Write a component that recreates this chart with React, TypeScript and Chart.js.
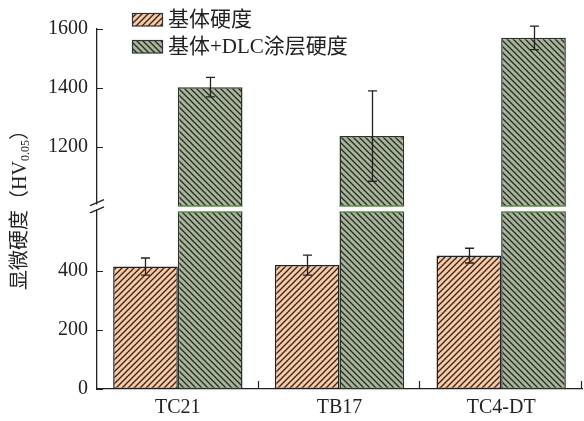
import React, { useEffect, useRef } from 'react';
import { Chart, registerables } from 'chart.js';

Chart.register(...registerables);

const categories = ['TC21', 'TB17', 'TC4-DT'];
const seriesLabels = ['基体硬度', '基体+DLC涂层硬度'];
const baseHardness = [415, 420, 452];
const baseError = [29, 34, 25];
const coatedHardness = [1403, 1237, 1570];
const coatedError = [33, 153, 40];
const yTickValues = [0, 200, 400, 1200, 1400, 1600];
const breakLow = 600;
const breakHigh = 1000;
const breakGap = 20;
const yMaxReal = 1600;

const toDisplay = (v: number) => (v <= breakLow ? v : v - (breakHigh - breakLow) + breakGap);

const SERIF = "'Liberation Serif', 'Times New Roman', serif";
const MIXED = "'Liberation Serif', 'Noto Sans CJK SC', serif";
const ORANGE = '#FCC8A2';
const GREEN = '#A8B698';
const INK = '#222222';

function makeHatch(bg: string, dir: 'fwd' | 'back', s: number) {
  const c = document.createElement('canvas');
  c.width = s;
  c.height = s;
  const g = c.getContext('2d')!;
  g.fillStyle = bg;
  g.fillRect(0, 0, s, s);
  g.strokeStyle = '#262626';
  g.lineWidth = 1.25;
  g.beginPath();
  if (dir === 'fwd') {
    g.moveTo(0, s); g.lineTo(s, 0);
    g.moveTo(-1, 1); g.lineTo(1, -1);
    g.moveTo(s - 1, s + 1); g.lineTo(s + 1, s - 1);
  } else {
    g.moveTo(0, 0); g.lineTo(s, s);
    g.moveTo(-1, s - 1); g.lineTo(1, s + 1);
    g.moveTo(s - 1, -1); g.lineTo(s + 1, 1);
  }
  g.stroke();
  return g.createPattern(c, 'repeat')!;
}

export default function App() {
  const ref = useRef<HTMLCanvasElement | null>(null);

  useEffect(() => {
    const canvas = ref.current!;
    const orangePat = makeHatch(ORANGE, 'fwd', 6);
    const greenPat = makeHatch(GREEN, 'back', 6);
    const patterns = [orangePat, greenPat];
    const errors = [baseError, coatedError];
    const realValues = [baseHardness, coatedHardness];

    const custom = {
      id: 'custom',
      afterDatasetsDraw(chart: any) {
        const ctx = chart.ctx;
        const y = chart.scales.y;
        const meta1 = chart.getDatasetMeta(1);
        const yLo = y.getPixelForValue(breakLow);
        const yHi = y.getPixelForValue(breakLow + breakGap);
        ctx.save();
        meta1.data.forEach((bar: any) => {
          const w = bar.width;
          const x0 = bar.x - w / 2;
          ctx.fillStyle = '#ffffff';
          ctx.fillRect(x0 - 2, yHi, w + 4, yLo - yHi);
          ctx.strokeStyle = '#5E8C52';
          ctx.lineWidth = 1.5;
          ctx.beginPath();
          ctx.moveTo(x0, yHi); ctx.lineTo(x0 + w, yHi);
          ctx.moveTo(x0, yLo); ctx.lineTo(x0 + w, yLo);
          ctx.stroke();
        });
        ctx.strokeStyle = INK;
        ctx.lineWidth = 1.3;
        [0, 1].forEach((di) => {
          const meta = chart.getDatasetMeta(di);
          meta.data.forEach((bar: any, i: number) => {
            const v = realValues[di][i];
            const e = errors[di][i];
            const yt = y.getPixelForValue(toDisplay(v + e));
            const yb = y.getPixelForValue(toDisplay(v - e));
            const x = Math.round(bar.x) + 0.5;
            ctx.beginPath();
            ctx.moveTo(x, yt); ctx.lineTo(x, yb);
            ctx.moveTo(x - 4.5, yt); ctx.lineTo(x + 4.5, yt);
            ctx.moveTo(x - 4.5, yb); ctx.lineTo(x + 4.5, yb);
            ctx.stroke();
          });
        });
        ctx.restore();
      },
      afterDraw(chart: any) {
        const ctx = chart.ctx;
        const y = chart.scales.y;
        const x = chart.scales.x;
        const area = chart.chartArea;
        ctx.save();
        ctx.strokeStyle = INK;
        ctx.lineWidth = 1.2;
        ctx.beginPath();
        yTickValues.forEach((v) => {
          const py = Math.round(y.getPixelForValue(toDisplay(v))) + 0.5;
          ctx.moveTo(area.left, py); ctx.lineTo(area.left + 6, py);
        });
        const n = categories.length;
        const cw = (x.right - x.left) / n;
        for (let i = 1; i <= n; i++) {
          const px = Math.round(x.left + i * cw) - 0.5;
          ctx.moveTo(px, area.bottom); ctx.lineTo(px, area.bottom - 8);
        }
        ctx.stroke();
        // axis break
        const yLo = y.getPixelForValue(breakLow);
        const yHi = y.getPixelForValue(breakLow + breakGap);
        ctx.fillStyle = '#ffffff';
        ctx.fillRect(area.left - 2, yHi - 1.5, 4, yLo - yHi - 1);
        ctx.lineWidth = 1.3;
        ctx.beginPath();
        const c1 = yHi - 3.5;
        const c2 = yLo - 2;
        [c1, c2].forEach((cy) => {
          ctx.moveTo(area.left - 7, cy + 3);
          ctx.lineTo(area.left + 7, cy - 3);
        });
        ctx.stroke();
        // legend
        const rows = [19.5, 46.5];
        rows.forEach((ry, i) => {
          ctx.fillStyle = patterns[i];
          ctx.fillRect(132, ry - 6.5, 31, 13);
          ctx.strokeStyle = '#333';
          ctx.lineWidth = 1.2;
          ctx.strokeRect(132.5, ry - 6, 30, 12.5);
          ctx.fillStyle = INK;
          ctx.font = `21px ${MIXED}`;
          ctx.textBaseline = 'middle';
          ctx.textAlign = 'left';
          ctx.fillText(seriesLabels[i], 168, ry + 1);
        });
        // y title with subscript
        const parts = [
          { t: '显微硬度（HV', size: 20, dy: 0 },
          { t: '0.05', size: 12, dy: 5 },
          { t: '）', size: 20, dy: 0 },
        ];
        let total = 0;
        parts.forEach((p) => {
          ctx.font = `${p.size}px ${MIXED}`;
          total += ctx.measureText(p.t).width;
        });
        ctx.translate(21, 205);
        ctx.rotate(-Math.PI / 2);
        let cx = -total / 2;
        ctx.fillStyle = INK;
        ctx.textBaseline = 'middle';
        ctx.textAlign = 'left';
        parts.forEach((p) => {
          ctx.font = `${p.size}px ${MIXED}`;
          ctx.fillText(p.t, cx, p.dy);
          cx += ctx.measureText(p.t).width;
        });
        ctx.restore();
      },
    };

    const chart = new Chart(canvas, {
      type: 'bar',
      data: {
        labels: categories,
        datasets: [
          {
            label: seriesLabels[0],
            data: baseHardness.map(toDisplay),
            backgroundColor: orangePat as any,
            borderColor: INK,
            borderWidth: 1.5,
            borderSkipped: false,
          },
          {
            label: seriesLabels[1],
            data: coatedHardness.map(toDisplay),
            backgroundColor: greenPat as any,
            borderColor: '#2b3327',
            borderWidth: 1.5,
            borderSkipped: false,
          },
        ],
      },
      options: {
        responsive: false,
        animation: false,
        devicePixelRatio: 1,
        layout: { padding: { top: 29, right: 2, left: 0, bottom: 0 } },
        datasets: { bar: { categoryPercentage: 0.8, barPercentage: 1.0 } },
        plugins: { legend: { display: false }, tooltip: { enabled: false } },
        scales: {
          x: {
            grid: { display: false, drawTicks: false },
            border: { display: true, color: INK, width: 1.3 },
            ticks: { color: INK, font: { family: SERIF, size: 20 }, padding: 7 },
            afterFit(s: any) { s.height = 32; },
          },
          y: {
            min: 0,
            max: toDisplay(yMaxReal),
            grid: { display: false, drawTicks: false },
            border: { display: true, color: INK, width: 1.3 },
            afterBuildTicks(s: any) {
              s.ticks = yTickValues.map((v) => ({ value: toDisplay(v) }));
            },
            ticks: {
              color: INK,
              font: { family: SERIF, size: 20 },
              padding: 9,
              autoSkip: false,
              callback: (_v: any, i: number) => String(yTickValues[i]),
            },
            afterFit(s: any) { s.width = 97; },
          },
        },
      },
      plugins: [custom],
    } as any);

    return () => chart.destroy();
  }, []);

  return (
    <div style={{ position: 'absolute', left: 0, top: 0, width: 584, height: 421, background: '#fff' }}>
      <canvas ref={ref} width={584} height={421} style={{ display: 'block', width: 584, height: 421 }} />
    </div>
  );
}
